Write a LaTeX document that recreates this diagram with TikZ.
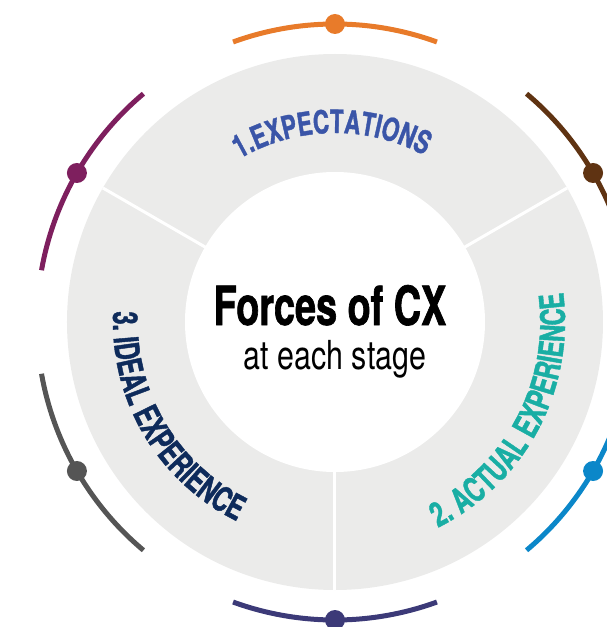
\documentclass[tikz,border=0pt]{standalone}
\usepackage{fontspec}
\usetikzlibrary{decorations.text}

\setmainfont{TeX Gyre Heros}[FakeStretch=0.76]
\newfontfamily\condfont{TeX Gyre Heros}[FakeStretch=0.70, BoldFeatures={FakeBold=1.2}]
\newcommand{\stagefont}{\condfont\bfseries\fontsize{32}{32}\selectfont}
\newcommand{\sidefont}{\condfont\bfseries\fontsize{34}{34}\selectfont}

\definecolor{ringgray}{HTML}{EBEBEA}
\definecolor{cxorange}{HTML}{E87B2A}
\definecolor{cxbrown}{HTML}{5F3312}
\definecolor{cxblue}{HTML}{0B87C9}
\definecolor{cxnavy}{HTML}{3C3A78}
\definecolor{cxgray}{HTML}{555555}
\definecolor{cxpurple}{HTML}{7E1F5E}
\definecolor{expblue}{HTML}{3A55A8}
\definecolor{actteal}{HTML}{19AEA4}
\definecolor{idealnavy}{HTML}{0E2B5B}

\begin{document}
\begin{tikzpicture}[x=1pt, y=1pt,
    stagearc/.style={line width=5pt},
    stagelabel/.style={decorate, decoration={text along path, text align=center,
        text color=#1}}]
    \useasboundingbox (-335,-305) rectangle (272,322);

    % the grey ring, split in three stages
    \fill[ringgray] (0,0) circle (268);
    \foreach \a in {30,150,270}
        \draw[white, line width=3pt] (0,0) -- (\a:268);
    \fill[white] (0,0) circle (150);

    % outer arcs, each with its dot
    \foreach \a/\c in {90/cxorange, 30/cxbrown, -30/cxblue, -90/cxnavy, -150/cxgray, 150/cxpurple} {
        \draw[\c, stagearc] ({\a-20}:298) arc[start angle=\a-20, end angle=\a+20, radius=298];
        \fill[\c] (\a:298) circle (10);
    }

    % stage names along the ring
    \path[stagelabel=expblue, decoration={text={|\stagefont|1.EXPECTATIONS}}]
        (141:189) arc[start angle=141, end angle=41, radius=189];
    \path[stagelabel=actteal, decoration={text={|\sidefont|2. ACTUAL EXPERIENCE}}]
        (-99:230) arc[start angle=-99, end angle=43, radius=230];
    \path[stagelabel=idealnavy, decoration={text={|\sidefont|3. IDEAL EXPERIENCE}}]
        (140:222) arc[start angle=140, end angle=281, radius=222];

    % centre title
    \node[anchor=base, font=\condfont\bfseries\fontsize{54}{54}\selectfont] (title) at (-5,-3) {Forces of CX};
    \node[anchor=base, font=\fontsize{40}{40}\selectfont] (subtitle) at (0,-47) {at each stage};
\end{tikzpicture}
\end{document}
